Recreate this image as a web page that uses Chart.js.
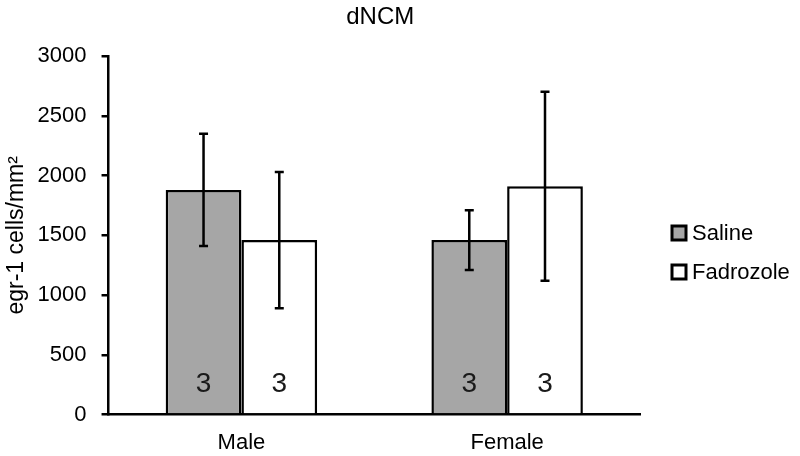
<!DOCTYPE html>
<html>
<head>
<meta charset="utf-8">
<script src="https://cdn.jsdelivr.net/npm/chart.js@4.4.1/dist/chart.umd.min.js"></script>
<style>
  html, body { margin: 0; padding: 0; background: #fff; }
  #wrap { width: 800px; height: 456px; }
</style>
</head>
<body>
<div id="wrap"><canvas id="chart"></canvas></div>
<script>
// data
const groups = ['Male', 'Female'];
const seriesNames = ['Saline', 'Fadrozole'];
const salineMeans = [1880, 1460];
const salineErrors = [470, 250];
const fadrozoleMeans = [1460, 1910];
const fadrozoleErrors = [570, 790];
const sampleSizes = [[3, 3], [3, 3]];
const yTicks = [0, 500, 1000, 1500, 2000, 2500, 3000];
const chartTitle = 'dNCM';

const fillColors = ['#a6a6a6', '#ffffff'];
const FONT = 'Arial, "Liberation Sans", sans-serif';

// title over the plot, error bars, n labels and the legend
const extras = {
    id: 'extras',
    afterDatasetsDraw(chart) {
        const ctx = chart.ctx;
        const area = chart.chartArea;
        const y = chart.scales.y;
        const errs = [salineErrors, fadrozoleErrors];
        ctx.save();

        ctx.fillStyle = '#000';
        ctx.font = '24px ' + FONT;
        ctx.textAlign = 'center';
        ctx.textBaseline = 'middle';
        ctx.fillText(chartTitle, (area.left + area.right) / 2 + 6, 17);

        chart.data.datasets.forEach((ds, di) => {
            const meta = chart.getDatasetMeta(di);
            meta.data.forEach((bar, i) => {
                const v = ds.data[i];
                const top = y.getPixelForValue(v + errs[di][i]);
                const bot = y.getPixelForValue(v - errs[di][i]);
                ctx.strokeStyle = '#000';
                ctx.lineWidth = 2.5;
                ctx.beginPath();
                ctx.moveTo(bar.x, top); ctx.lineTo(bar.x, bot);
                ctx.moveTo(bar.x - 4.5, top); ctx.lineTo(bar.x + 4.5, top);
                ctx.moveTo(bar.x - 4.5, bot); ctx.lineTo(bar.x + 4.5, bot);
                ctx.stroke();

                // sample size inside the bar
                ctx.fillStyle = '#1a1a1a';
                ctx.font = '28px ' + FONT;
                ctx.textAlign = 'center';
                ctx.textBaseline = 'middle';
                ctx.fillText(String(sampleSizes[i][di]), bar.x, y.getPixelForValue(0) - 30);
            });
        });

        // legend
        const lx = area.right + 32;
        seriesNames.forEach((name, k) => {
            const cy = 233 + k * 39;
            ctx.fillStyle = fillColors[k];
            ctx.fillRect(lx, cy - 7, 14, 14);
            ctx.strokeStyle = '#000';
            ctx.lineWidth = 3;
            ctx.strokeRect(lx, cy - 7, 14, 14);
            ctx.fillStyle = '#000';
            ctx.font = '22px ' + FONT;
            ctx.textAlign = 'left';
            ctx.textBaseline = 'middle';
            ctx.fillText(name, lx + 20, cy + 1);
        });
        ctx.restore();
    }
};

new Chart(document.getElementById('chart'), {
    type: 'bar',
    data: {
        labels: groups,
        datasets: [
            {
                label: seriesNames[0],
                data: salineMeans,
                backgroundColor: fillColors[0],
                borderColor: '#000',
                borderWidth: 2.5,
                borderSkipped: 'bottom'
            },
            {
                label: seriesNames[1],
                data: fadrozoleMeans,
                backgroundColor: fillColors[1],
                borderColor: '#000',
                borderWidth: 2.5,
                borderSkipped: 'bottom'
            }
        ]
    },
    options: {
        responsive: true,
        maintainAspectRatio: false,
        animation: false,
        datasets: {
            bar: { categoryPercentage: 0.57, barPercentage: 1.0 }
        },
        layout: { padding: { left: 3, right: 160, top: 56, bottom: -15 } },
        scales: {
            x: {
                grid: { display: false, drawTicks: false, tickLength: 0 },
                border: { color: '#000', width: 2.5 },
                ticks: {
                    color: '#000',
                    padding: 15,
                    font: { family: FONT, size: 22 }
                }
            },
            y: {
                min: 0,
                max: 3000,
                afterBuildTicks: axis => { axis.ticks = yTicks.map(v => ({ value: v })); },
                grid: {
                    drawOnChartArea: false,
                    drawTicks: true,
                    tickLength: 7,
                    color: '#000',
                    lineWidth: 2.5
                },
                border: { color: '#000', width: 2.5 },
                ticks: {
                    color: '#000',
                    padding: 15,
                    font: { family: FONT, size: 22 },
                    callback: v => String(v)
                },
                title: {
                    display: true,
                    text: 'egr-1 cells/mm²',
                    color: '#000',
                    font: { family: FONT, size: 23 },
                    padding: { top: 0, bottom: -8 }
                }
            }
        },
        plugins: {
            legend: { display: false },
            tooltip: { enabled: false }
        }
    },
    plugins: [extras]
});
</script>
</body>
</html>
